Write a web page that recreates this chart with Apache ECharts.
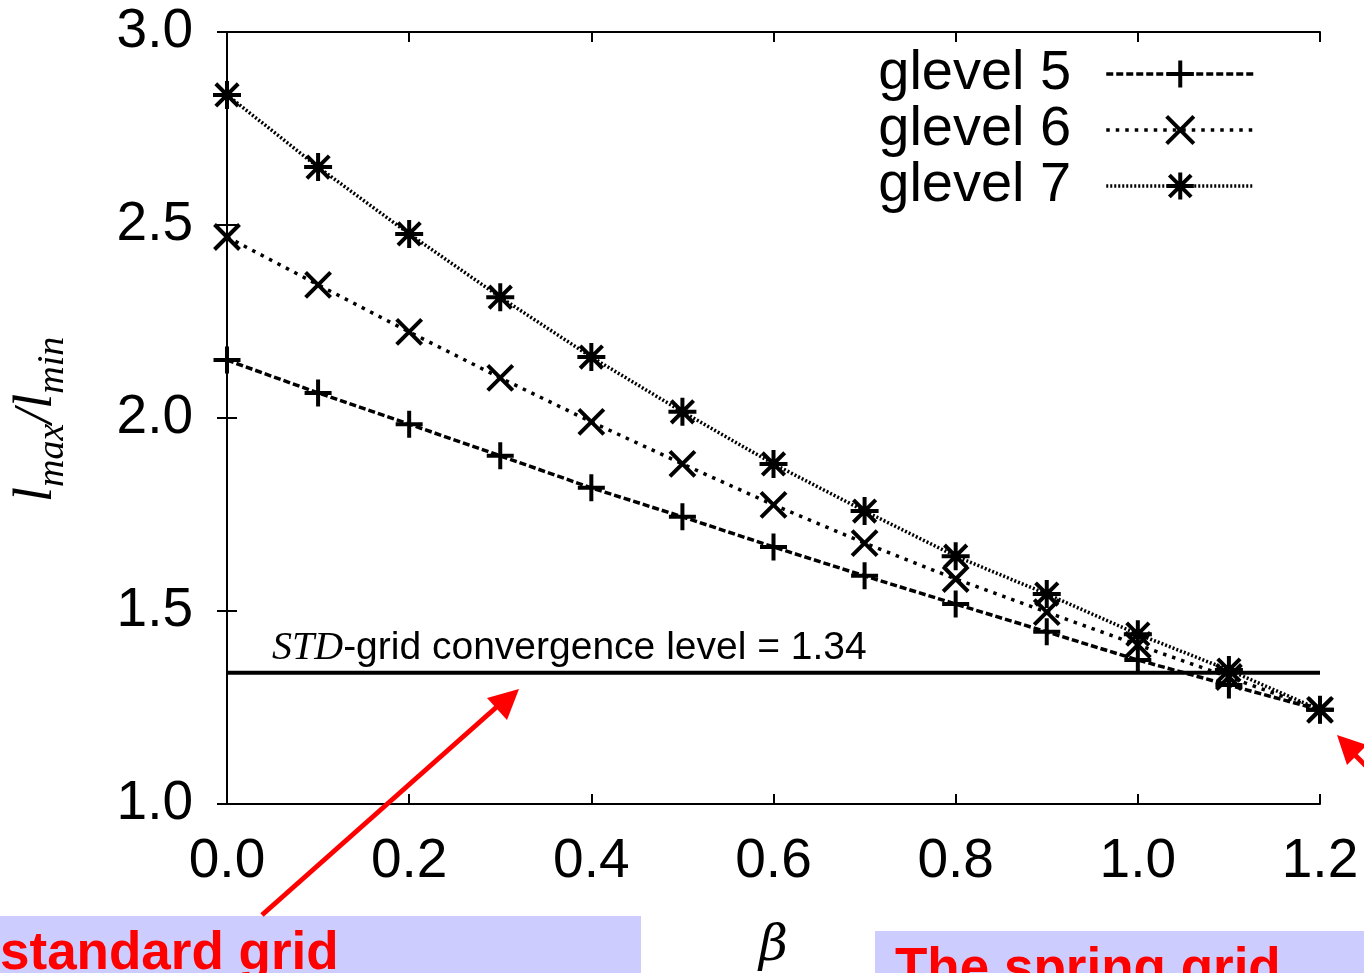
<!DOCTYPE html>
<html><head><meta charset="utf-8">
<script src="https://cdn.jsdelivr.net/npm/echarts@6/dist/echarts.min.js"></script>
<style>html,body{margin:0;padding:0;background:#fff}#c{width:1364px;height:973px}</style>
</head><body><div id="c"></div>
<script>
const beta = [0.0,0.1,0.2,0.3,0.4,0.5,0.6,0.7,0.8,0.9,1.0,1.1,1.2];
const glevel5 = [2.15,2.065,1.984,1.902,1.819,1.744,1.666,1.591,1.518,1.446,1.373,1.308,1.244];
const glevel6 = [2.469,2.345,2.223,2.104,1.99,1.881,1.775,1.676,1.583,1.497,1.412,1.329,1.244];
const glevel7 = [2.837,2.65,2.477,2.313,2.158,2.016,1.881,1.759,1.642,1.544,1.44,1.347,1.244];
const seriesNames = ['glevel 5','glevel 6','glevel 7'];
const stdLevel = 1.34;
const xTicks = ['0.0','0.2','0.4','0.6','0.8','1.0','1.2'];

const SYM_PLUS = 'path://M10,0L10,20M0,10L20,10';
const SYM_CROSS = 'path://M0,0L20,20M20,0L0,20';
const SYM_STAR = 'path://M10,0L10,20M0,10L20,10M2,2L18,18M18,2L2,18';

const chart = echarts.init(document.getElementById('c'));
const pairs = a => beta.map((b,i)=>[b,a[i]]);
const FONT = 'Liberation Sans';
function mk(name, data, sym, dash, size){
  return {
    name, type:'line', data: pairs(data), symbol: sym, symbolSize: size,
    showAllSymbol:true,
    lineStyle:{color:'#000', width:3.5, type: dash},
    itemStyle:{color:'#000', borderColor:'#000', borderWidth:4},
    emphasis:{disabled:true}, animation:false, z:5
  };
}
const axisCommon = {
  min:0, max:1.2, interval:0.2,
  axisLine:{lineStyle:{color:'#000', width:2}},
  axisTick:{inside:true, length:10, lineStyle:{color:'#000', width:2}},
  splitLine:{show:false}
};
chart.setOption({
  backgroundColor:'#fff',
  animation:false,
  grid:{left:227, right:44, top:32, bottom:169, containLabel:false, outerBoundsMode:'none'},
  legend:{
    right:103, top:41, orient:'vertical', align:'right',
    itemWidth:148, itemHeight:34, itemGap:0,
    itemStyle:{borderWidth:4, borderColor:'#000', color:'#000'},
    lineStyle:{width:3.5, color:'#000'},
    textStyle:{fontFamily:FONT, fontSize:56, color:'#000', lineHeight:56, padding:[0,30,0,0]},
    data: seriesNames
  },
  xAxis:[
    Object.assign({}, axisCommon, {type:'value', position:'bottom',
      axisLabel:{fontFamily:FONT, fontSize:55, color:'#000', margin:30,
        formatter: v => xTicks[Math.round(v/0.2)]},
      name:'β', nameLocation:'middle', nameGap:118,
      nameTextStyle:{fontFamily:'DejaVu Serif', fontStyle:'italic', fontSize:50, color:'#000'}}),
    Object.assign({}, axisCommon, {type:'value', position:'top', axisLabel:{show:false}})
  ],
  yAxis:[
    {type:'value', min:1.0, max:3.0, interval:0.5, position:'left',
      axisLine:{lineStyle:{color:'#000', width:2}},
      axisTick:{inside:true, length:10, lineStyle:{color:'#000', width:2}},
      splitLine:{show:false},
      axisLabel:{fontFamily:FONT, fontSize:55, color:'#000', margin:34, formatter: v=>v.toFixed(1)}},
    {type:'value', min:1.0, max:3.0, interval:0.5, position:'right',
      axisLine:{lineStyle:{color:'#000', width:2}},
      axisTick:{inside:true, length:10, lineStyle:{color:'#000', width:2}},
      splitLine:{show:false}, axisLabel:{show:false}}
  ],
  series:[
    mk(seriesNames[0], glevel5, SYM_PLUS, [7,3], 27),
    mk(seriesNames[1], glevel6, SYM_CROSS, [3.5,6], 25),
    mk(seriesNames[2], glevel7, SYM_STAR, [2,2], 28),
    {type:'line', data:[[0,stdLevel],[1.2,stdLevel]], symbol:'none',
      lineStyle:{color:'#000', width:4}, z:4, silent:true}
  ],
  graphic:[
    {type:'text', left:272, top:628, style:{
      text:'{i|STD}-grid convergence level = 1.34',
      fontFamily:FONT, fontSize:39, fill:'#000',
      rich:{i:{fontFamily:'Liberation Serif', fontStyle:'italic', fontSize:40}}}},
    {type:'text', x:10, y:502, rotation:Math.PI/2, style:{
      text:'{l|l}{s|max}{l|/l}{s|min}',
      rich:{l:{fontFamily:'Liberation Serif', fontStyle:'italic', fontSize:54, fill:'#000', verticalAlign:'bottom'},
            s:{fontFamily:'Liberation Serif', fontStyle:'italic', fontSize:38, fill:'#000', verticalAlign:'bottom', padding:[0,0,-8,0]}}}},
    {type:'rect', shape:{x:0,y:916,width:641,height:60}, style:{fill:'#ccccff'}, z:1},
    {type:'rect', shape:{x:875,y:931,width:489,height:45}, style:{fill:'#ccccff'}, z:1},
    {type:'text', left:0, top:928, z:3, style:{text:'standard grid', fontFamily:FONT, fontWeight:'bold',
      fontSize:53, fill:'#ff0000', textShadowColor:'#000', textShadowOffsetX:2, textShadowOffsetY:2, textShadowBlur:0}},
    {type:'text', left:895, top:944, z:3, style:{text:'The spring grid', fontFamily:FONT, fontWeight:'bold',
      fontSize:53, fill:'#ff0000', textShadowColor:'#000', textShadowOffsetX:2, textShadowOffsetY:2, textShadowBlur:0}},
    {type:'line', shape:{x1:262,y1:915,x2:500,y2:704}, style:{stroke:'#ff0000', lineWidth:5}, z:10},
    {type:'polygon', shape:{points:[[519,689],[487,698],[507,720]]}, style:{fill:'#ff0000'}, z:10},
    {type:'line', shape:{x1:1352,y1:752,x2:1400,y2:800}, style:{stroke:'#ff0000', lineWidth:5}, z:10},
    {type:'polygon', shape:{points:[[1337,735],[1347,765],[1367,745]]}, style:{fill:'#ff0000'}, z:10}
  ]
});
</script></body></html>
